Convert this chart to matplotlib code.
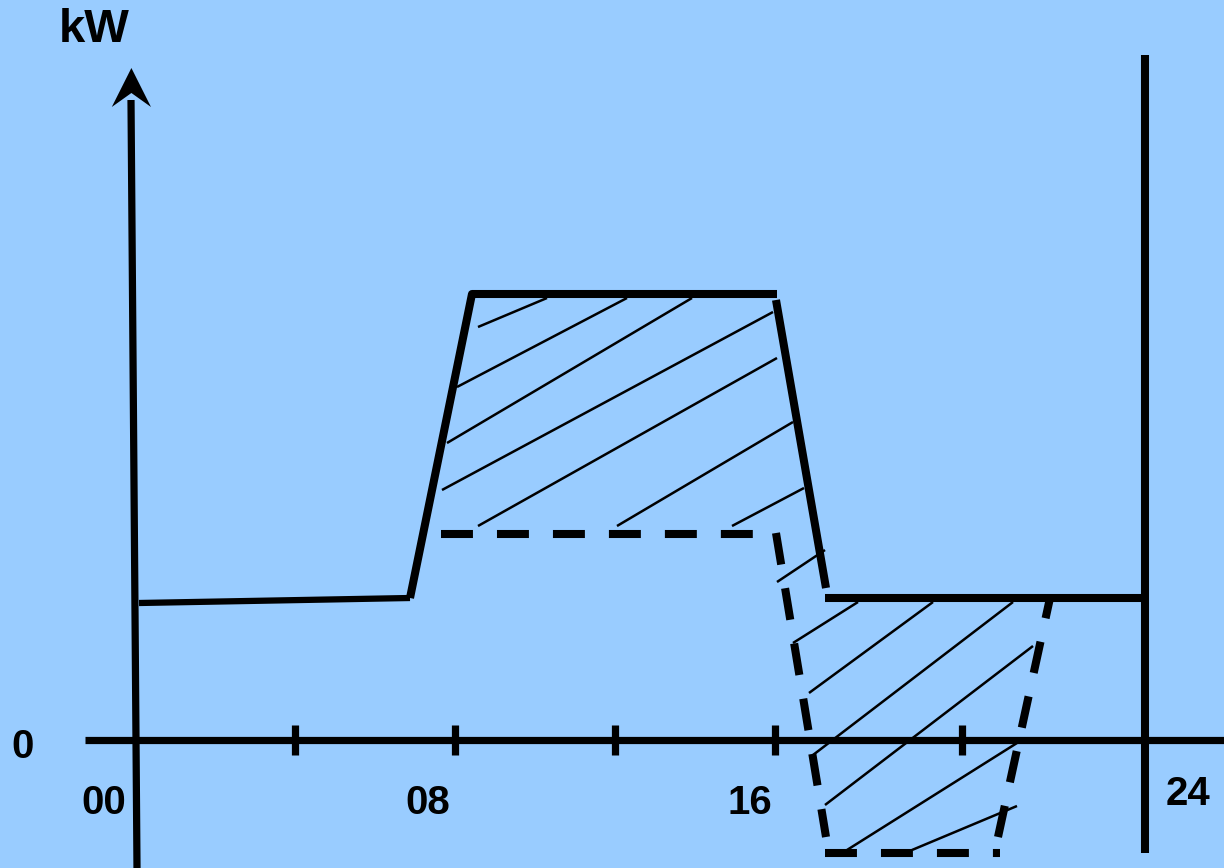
import matplotlib.pyplot as plt
from matplotlib.patches import Polygon

plt.rcParams['font.family'] = ['Liberation Sans', 'DejaVu Sans']
plt.rcParams['lines.scale_dashes'] = False

# hours on x, kW (schematic units) on y
base_h = [0.1, 6.875]
base_kw = [13.7, 14.2]
peak_h = [6.875, 8.425, 16.05]
peak_kw = [14.2, 44.6, 44.6]
drop_h = [16.025, 17.275]
drop_kw = [44.0, 15.2]
evening_h = [17.25, 25.2]
evening_kw = [14.2, 14.2]

# shifted load (dashed)
shift_top_h = [7.65, 15.45]
shift_top_kw = [20.6, 20.6]
shift_left_h = [16.025, 17.275]
shift_left_kw = [20.7, -9.7]
shift_bottom_h = [17.25, 21.625]
shift_bottom_kw = [-11.3, -11.3]
shift_right_h = [21.575, 22.875]
shift_right_kw = [-9.7, 14.2]

# hatch strokes: (h0, kw0, h1, kw1)
hatch_upper = [
    (8.575, 41.3, 10.3, 44.2),
    (8.05, 35.3, 12.3, 44.2),
    (7.8, 29.7, 13.925, 44.2),
    (7.675, 25.0, 15.95, 42.8),
    (8.575, 21.4, 16.05, 38.2),
    (12.05, 21.4, 16.45, 31.8),
    (14.925, 21.4, 16.725, 25.2),
]
hatch_lower = [
    (16.05, 15.8, 17.25, 19.0),
    (16.45, 9.7, 18.075, 13.8),
    (16.85, 4.7, 19.95, 13.8),
    (16.95, -1.5, 21.95, 13.8),
    (17.25, -6.5, 22.45, 9.4),
    (17.8, -11.0, 22.05, -0.3),
    (19.425, -11.0, 22.05, -6.6),
]

tick_hours = [4, 8, 12, 16, 20.675]
hour_labels = ['00', '08', '16', '24']
hour_label_pos = [-0.775, 7.325, 15.375, 26.325]
end_hour = 25.25

bg = '#99CCFF'
fig = plt.figure(figsize=(12.24, 8.68), dpi=100, facecolor=bg)
ax = fig.add_axes([0, 0, 1, 1])
ax.set_facecolor(bg)
ax.set_xlim(-3.375, 27.225)
ax.set_ylim(-12.8, 74)
ax.axis('off')

thick = 5.8
dash = dict(color='k', lw=5.8, linestyle=(0, (23, 17.3)), dash_capstyle='butt')

# axes of the sketch
ax.plot([-1.25, 27.3], [0, 0], color='k', lw=5.2, solid_capstyle='butt')
ax.plot([0.05, -0.1], [-12.8, 64.0], color='k', lw=5.2, solid_capstyle='butt')
tip_h, tip_kw = -0.09, 67.2
ax.add_patch(Polygon([(tip_h, tip_kw), (tip_h - 0.49, 63.3), (tip_h, 64.7),
                      (tip_h + 0.49, 63.3)], closed=True, color='k', lw=0))
for t in tick_hours:
    ax.plot([t, t], [-1.5, 1.5], color='k', lw=5.2, solid_capstyle='butt')
ax.plot([end_hour, end_hour], [-11.3, 68.5], color='k', lw=thick, solid_capstyle='butt')

# load profile
ax.plot(base_h, base_kw, color='k', lw=4.5, solid_capstyle='butt')
ax.plot(peak_h, peak_kw, color='k', lw=thick, solid_capstyle='butt')
ax.plot(drop_h, drop_kw, color='k', lw=thick, solid_capstyle='butt')
ax.plot(evening_h, evening_kw, color='k', lw=thick, solid_capstyle='butt')

ax.plot(shift_top_h, shift_top_kw, **dash)
ax.plot(shift_left_h, shift_left_kw, **dash)
ax.plot(shift_bottom_h, shift_bottom_kw, **dash)
ax.plot(shift_right_h, shift_right_kw, **dash)

for h0, k0, h1, k1 in hatch_upper + hatch_lower:
    ax.plot([h0, h1], [k0, k1], color='k', lw=1.8, solid_capstyle='butt')

# labels
txt = dict(fontweight='bold', color='k', ha='center', va='center')
ax.text(-1.025, 71.0, 'kW', fontsize=34, **txt)
ax.text(-2.8, -0.7, '0', fontsize=29, **txt)
for lab, pos in zip(hour_labels[:3], hour_label_pos[:3]):
    ax.text(pos, -6.3, lab, fontsize=29, **txt)
ax.text(hour_label_pos[3], -5.4, hour_labels[3], fontsize=29, **txt)

fig.savefig('out.png', dpi=100, facecolor=bg)
